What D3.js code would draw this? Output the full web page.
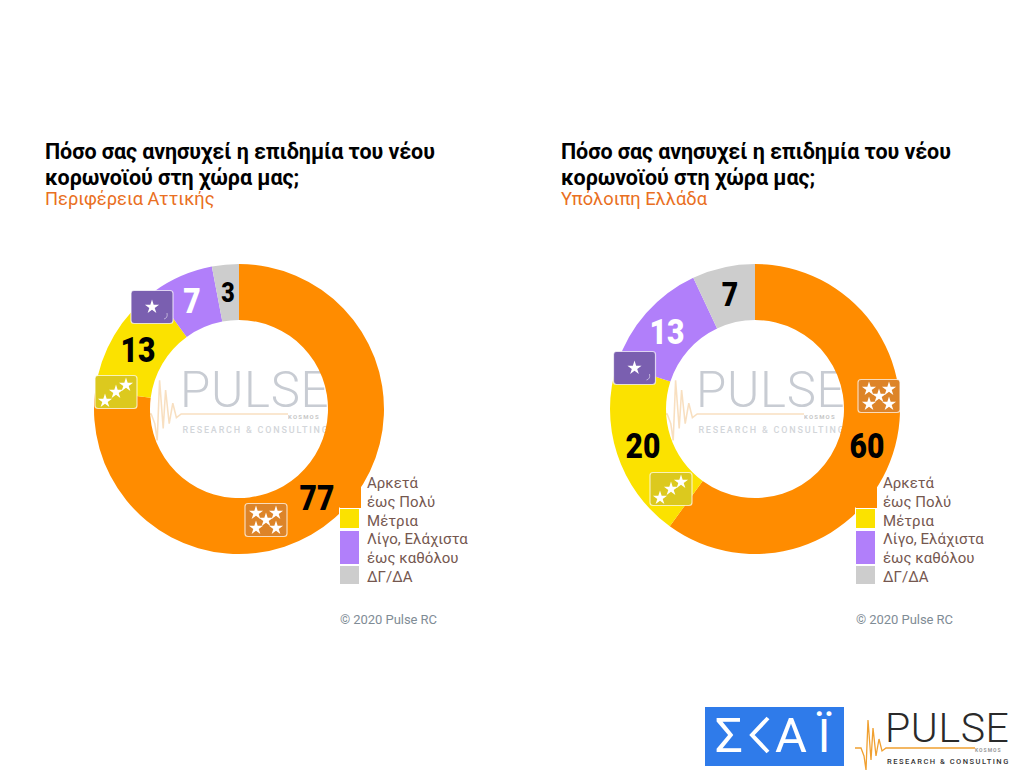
<!DOCTYPE html>
<html><head><meta charset="utf-8">
<script src="https://cdn.jsdelivr.net/npm/d3@7/dist/d3.min.js"></script>
<style>html,body{margin:0;background:#fff}svg{display:block}text{font-family:Roboto,sans-serif}</style>
</head><body><svg id="chart" width="1011" height="780"></svg>
<script>
const categories = ["Αρκετά έως Πολύ", "Μέτρια", "Λίγο, Ελάχιστα έως καθόλου", "ΔΓ/ΔΑ"];
const atticaValues = [77, 13, 7, 3];
const restValues = [60, 20, 13, 7];
const sliceColors = ["#ff8c00", "#fbe200", "#b17ffa", "#cdcdcd"];
const badgeColors = ["#dd8428", "#dcc91e", "#7a5fb0"];
const labelColors = ["#000", "#000", "#fff", "#000"];
const titleLines = ["Πόσο σας ανησυχεί η επιδημία του νέου", "κορωνοϊού στη χώρα μας;"];
const subtitles = ["Περιφέρεια Αττικής", "Υπόλοιπη Ελλάδα"];
const legendLines = [["Αρκετά", "έως Πολύ"], ["Μέτρια"], ["Λίγο, Ελάχιστα", "έως καθόλου"], ["ΔΓ/ΔΑ"]];
const starCounts = [5, 3, 1];
const copyright = "© 2020 Pulse RC";

const svg = d3.select("#chart");
const outerR = 145, innerR = 89;
const pie = d3.pie().sort(null).value(d => d);
const arc = d3.arc().innerRadius(innerR).outerRadius(outerR);
const starPath = d3.symbol().type(d3.symbolStar);

// Pulse wordmark: origin sits where the seismograph trace begins
function pulseMark(g, s, wordColor, subColor, traceColor, traceOpacity) {
  const trace = [[0,0],[6,0],[9,8],[11,22],[13,-28],[16,12],[18,-20],[21,8],[24,-9],[27,3],[31,0],[120,0]];
  g.append("path").attr("d", d3.line()(trace.map(p => [p[0]*s, p[1]*s])))
    .attr("fill","none").attr("stroke",traceColor).attr("stroke-width",1.3*s).attr("opacity",traceOpacity);
  g.append("text").text("PULSE").attr("x",30*s).attr("y",-6*s).attr("font-size",41*s)
    .attr("letter-spacing",0.6*s).attr("font-weight",300).attr("fill",wordColor);
  g.append("text").text("RESEARCH & CONSULTING").attr("x",32*s).attr("y",16*s).attr("font-size",7.5*s)
    .attr("letter-spacing",1.5*s).attr("font-weight",500).attr("fill",subColor);
  g.append("text").text("KOSMOS").attr("x",120*s).attr("y",4*s).attr("font-size",5*s).attr("letter-spacing",1*s)
    .attr("font-weight",700).attr("fill","#9a9a9a").attr("opacity",traceOpacity);
}

function badge(g, cx, cy, color, n) {
  const b = g.append("g").attr("transform", `translate(${cx},${cy})`);
  b.append("rect").attr("x",-21).attr("y",-16.5).attr("width",42).attr("height",33).attr("rx",3)
    .attr("fill",color).attr("stroke","#fff").attr("stroke-opacity",0.7).attr("stroke-width",1.2);
  const spots = n === 5 ? [[-10,-7],[10,-7],[0,0],[-10,8],[10,8]]
              : n === 3 ? [[-11,9],[0,0],[10,-7]] : [[0,0]];
  spots.forEach(p => b.append("path").attr("d", starPath.size(62)())
    .attr("transform",`translate(${p[0]},${p[1]})`).attr("fill","#fff"));
  if (n === 1) b.append("path").attr("d","M15,6 Q16,11 12,12").attr("fill","none").attr("stroke","#fff").attr("stroke-opacity",0.5);
}

function donut(x0, values, subtitle, labels, badges) {
  const cx = x0 + 194, cy = 409;
  const g = svg.append("g");
  titleLines.forEach((t,i) => g.append("text").text(t).attr("x",x0).attr("y",159+i*26)
    .attr("font-size",21.5).attr("letter-spacing",-0.08).attr("font-weight",700).attr("fill","#000"));
  g.append("text").text(subtitle).attr("x",x0).attr("y",205).attr("font-size",18.3).attr("fill","#e96f22");

  // Watermark sits under the ring so the ring trims its edges
  pulseMark(g.append("g").attr("transform",`translate(${cx-95},${cy+5})`), 1.2, "#c8ccd3", "#d3d6da", "#f3c48c", 0.55);

  const ring = g.append("g").attr("transform",`translate(${cx},${cy})`);
  ring.selectAll("path").data(pie(values)).join("path").attr("d",arc).attr("fill",(d,i)=>sliceColors[i]);

  // Legend: lower swatches are cut cleanly out of the ring
  g.append("rect").attr("x",x0+294).attr("y",507.5).attr("width",22).attr("height",78).attr("fill","#fff");
  const sw = [[475,33,21],[509,19,19],[531,33,19],[566,18,19]];
  let ty = 488;
  legendLines.forEach((lines,i) => {
    g.append("rect").attr("x",x0+295).attr("y",sw[i][0]).attr("width",sw[i][2]).attr("height",sw[i][1]).attr("fill",sliceColors[i]);
    lines.forEach(l => { g.append("text").text(l).attr("x",x0+322).attr("y",ty).attr("font-size",15).attr("letter-spacing",0.03).attr("fill","#75574f"); ty += 18.8; });
  });
  g.append("text").text(copyright).attr("x",x0+295).attr("y",624).attr("font-size",13).attr("letter-spacing",-0.05).attr("fill","#7f8c96");

  values.forEach((v,i) => {
    g.append("text").text(v)
      .attr("transform",`translate(${labels[i][0]},${labels[i][1]}) scale(0.86,1)`)
      .attr("text-anchor","middle").attr("font-size",labels[i][2]).attr("font-weight",900).attr("fill",labelColors[i]);
  });
  badges.forEach((b,i) => badge(g, b[0], b[1], badgeColors[i], starCounts[i]));
}

donut(45, atticaValues, subtitles[0], [[317,510,35],[138,362,35],[192,313,35],[228,302,27]], [[266,520],[116,392],[152,307]]);
donut(561, restValues, subtitles[1], [[867,458,35],[643,458,35],[667,344,35],[730,306,33]], [[879,396],[671,489],[634.5,368]]);

// Broadcaster logo: the K is a chevron in this wordmark
const sk = svg.append("g");
sk.append("rect").attr("x",705).attr("y",707).attr("width",139).attr("height",59).attr("fill","#2f7bea");
sk.append("text").text("Σ").attr("x",729).attr("y",752).attr("text-anchor","middle").attr("font-size",49).attr("fill","#fff");
sk.append("path").attr("d",d3.line()([[768,718],[752,735],[768,752]])).attr("fill","none").attr("stroke","#fff").attr("stroke-width",4);
sk.append("text").text("Α").attr("x",791).attr("y",752).attr("text-anchor","middle").attr("font-size",49).attr("fill","#fff");
sk.append("text").text("Ϊ").attr("x",824).attr("y",752).attr("text-anchor","middle").attr("font-size",46).attr("fill","#fff");

pulseMark(svg.append("g").attr("transform","translate(855,748)"), 1, "#2a2a2a", "#333", "#f0a030", 1);
</script></body></html>
